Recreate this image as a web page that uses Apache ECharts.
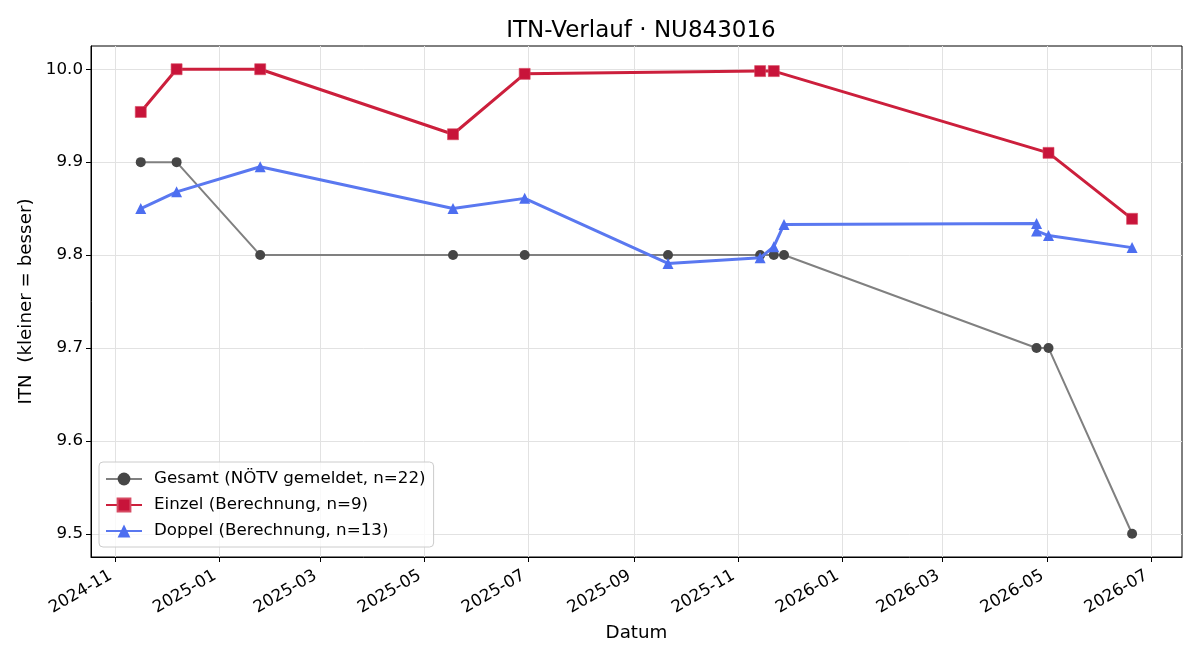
<!DOCTYPE html>
<html>
<head>
<meta charset="utf-8">
<title>ITN-Verlauf</title>
<script src="https://cdn.jsdelivr.net/npm/echarts@6/dist/echarts.min.js"></script>
<style>
  html, body { margin: 0; padding: 0; background: #fff; }
  #chart { width: 1200px; height: 660px; }
</style>
</head>
<body>
<div id="chart"></div>
<script>
// Gesamt (NÖTV gemeldet)
const gesamtDates = ['2024-11-16', '2024-12-07', '2025-01-25', '2025-05-18', '2025-06-29', '2025-09-21',
  '2025-11-14', '2025-11-22', '2025-11-28', '2026-04-25', '2026-05-02', '2026-06-20'];
const gesamtValues = [9.9, 9.9, 9.8, 9.8, 9.8, 9.8, 9.8, 9.8, 9.8, 9.7, 9.7, 9.5];

// Einzel (Berechnung)
const einzelDates = ['2024-11-16', '2024-12-07', '2025-01-25', '2025-05-18', '2025-06-29',
  '2025-11-14', '2025-11-22', '2026-05-02', '2026-06-20'];
const einzelValues = [9.954, 10.0, 10.0, 9.930, 9.995, 9.998, 9.998, 9.910, 9.839];

// Doppel (Berechnung)
const doppelDates = ['2024-11-16', '2024-12-07', '2025-01-25', '2025-05-18', '2025-06-29', '2025-09-21',
  '2025-11-14', '2025-11-22', '2025-11-28', '2026-04-25', '2026-04-25', '2026-05-02', '2026-06-20'];
const doppelValues = [9.850, 9.868, 9.895, 9.850, 9.861, 9.791, 9.797, 9.809, 9.833, 9.834, 9.826, 9.821, 9.808];

// Achsen
const xTickLabels = ['2024-11', '2025-01', '2025-03', '2025-05', '2025-07', '2025-09',
  '2025-11', '2026-01', '2026-03', '2026-05', '2026-07'];
const yTicks = [9.5, 9.6, 9.7, 9.8, 9.9, 10.0];

const xTicks = xTickLabels.map(l => Date.parse(l + '-01'));
const pairs = (dates, vals) => dates.map((d, i) => [Date.parse(d), vals[i]]);

const font = 'DejaVu Sans';
const chart = echarts.init(document.getElementById('chart'));

chart.setOption({
  animation: false,
  backgroundColor: '#fff',
  textStyle: { fontFamily: font },
  title: {
    text: 'ITN-Verlauf · NU843016',
    left: 636, top: 15, textAlign: 'center',
    textStyle: { fontFamily: font, fontSize: 23, fontWeight: 'normal', color: '#000' }
  },
  grid: {
    left: 91, right: 18, top: 46, bottom: 103,
    show: true, borderColor: '#000', borderWidth: 1, containLabel: false
  },
  legend: {
    orient: 'vertical',
    left: 99, top: 462,
    padding: [8, 8, 7, 6],
    itemWidth: 36, itemHeight: 16, itemGap: 8,
    backgroundColor: 'rgba(255,255,255,0.8)',
    borderColor: '#cccccc', borderWidth: 1, borderRadius: 4,
    textStyle: { fontFamily: font, fontSize: 16.7, lineHeight: 18, color: '#000', padding: [0, 0, 0, 7] },
    data: ['Gesamt (NÖTV gemeldet, n=22)', 'Einzel (Berechnung, n=9)', 'Doppel (Berechnung, n=13)']
  },
  xAxis: {
    type: 'value',
    min: Date.parse('2024-10-17T20:00:00Z'),
    max: Date.parse('2026-07-19T06:00:00Z'),
    name: 'Datum', nameLocation: 'middle', nameGap: 67,
    nameTextStyle: { fontFamily: font, fontSize: 18.3, color: '#000' },
    axisLine: { show: true, onZero: false, lineStyle: { color: '#000', width: 1 } },
    axisTick: { show: true, inside: false, length: 5, lineStyle: { color: '#000' }, customValues: xTicks },
    axisLabel: {
      customValues: xTicks, rotate: 30, margin: 15, padding: [0, 5, 0, 0],
      fontFamily: font, fontSize: 16.7, color: '#000',
      formatter: v => xTickLabels[xTicks.indexOf(v)] || ''
    },
    splitLine: { show: true, lineStyle: { color: '#e2e2e2', width: 1 } }
  },
  yAxis: {
    type: 'value',
    min: 9.475, max: 10.025,
    name: 'ITN  (kleiner = besser)', nameLocation: 'middle', nameGap: 56,
    nameTextStyle: { fontFamily: font, fontSize: 18.3, color: '#000' },
    axisLine: { show: true, onZero: false, lineStyle: { color: '#000', width: 1 } },
    axisTick: { show: true, inside: false, length: 5, lineStyle: { color: '#000' }, customValues: yTicks },
    axisLabel: {
      customValues: yTicks, margin: 8,
      fontFamily: font, fontSize: 16.7, color: '#000',
      formatter: v => v.toFixed(1)
    },
    splitLine: { show: true, lineStyle: { color: '#e2e2e2', width: 1 } }
  },
  series: [
    {
      name: 'Gesamt (NÖTV gemeldet, n=22)', type: 'line',
      data: pairs(gesamtDates, gesamtValues),
      symbol: 'circle', symbolSize: 10,
      lineStyle: { color: '#808080', width: 2 },
      itemStyle: { color: '#464646' },
      z: 2
    },
    {
      name: 'Einzel (Berechnung, n=9)', type: 'line',
      data: pairs(einzelDates, einzelValues),
      symbol: 'rect', symbolSize: 11,
      lineStyle: { color: '#cc1f3c', width: 3 },
      itemStyle: { color: '#c8143a', borderColor: '#d64a62', borderWidth: 0.6 },
      z: 3
    },
    {
      name: 'Doppel (Berechnung, n=13)', type: 'line',
      data: pairs(doppelDates, doppelValues),
      symbol: 'triangle', symbolSize: 11,
      lineStyle: { color: '#5a78f0', width: 3 },
      itemStyle: { color: '#4d6ef0' },
      z: 4
    }
  ]
});
</script>
</body>
</html>
